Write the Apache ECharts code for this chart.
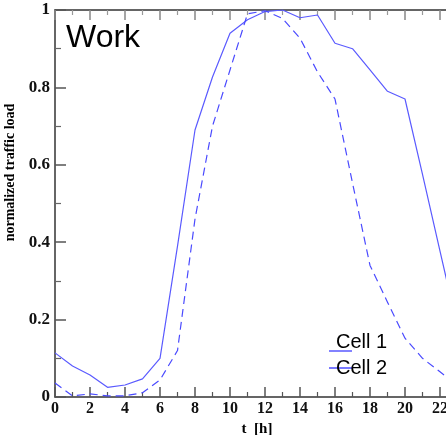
<!DOCTYPE html>
<html>
<head>
<meta charset="utf-8">
<script src="https://cdn.jsdelivr.net/npm/echarts@6/dist/echarts.min.js"></script>
<style>
  html, body { margin: 0; padding: 0; background: #fff; }
  #chart { width: 446px; height: 435px; }
</style>
</head>
<body>
<div id="chart"></div>
<script>
// hourly normalized load, t = 0..24 h
var hours = [0, 1, 2, 3, 4, 5, 6, 7, 8, 9, 10, 11, 12, 13, 14, 15, 16, 17, 18, 19, 20, 21, 22, 23, 24]
var cell1 = [0.114, 0.08, 0.057, 0.025, 0.031, 0.047, 0.10, 0.39, 0.69, 0.827, 0.94, 0.975, 0.996, 1.0, 0.98, 0.987, 0.914, 0.90, 0.845, 0.79, 0.77, 0.575, 0.377, 0.18, 0.11]
var cell2 = [0.036, 0.003, 0.008, 0.003, 0.003, 0.011, 0.044, 0.12, 0.46, 0.70, 0.845, 0.99, 0.998, 0.978, 0.927, 0.84, 0.77, 0.553, 0.34, 0.245, 0.152, 0.10, 0.065, 0.03, 0.04]
var seriesNames = ['Cell 1', 'Cell 2']

function pairs(vals) {
  return hours.map(function (h, i) { return [h, vals[i]] })
}

var serif = 'Liberation Serif'
var sans = 'Liberation Sans'
var lineColor = '#5a5aff'

var chart = echarts.init(document.getElementById('chart'))

var option = {
  animation: false,
  backgroundColor: '#fff',
  title: {
    text: 'Work',
    left: 66,
    top: 22,
    padding: 0,
    textStyle: { fontFamily: sans, fontSize: 32, fontWeight: 'normal', color: '#000' }
  },
  legend: [
    {
      // sample line sits below the text, like the original
      data: [{ name: seriesNames[0], icon: 'path://M0,0L0.01,0L0.01,0.01Z M0,18L23,18L23,19.4L0,19.4Z' }],
      left: 329,
      top: 332,
      itemWidth: 23,
      itemHeight: 20,
      padding: 0,
      textStyle: { fontFamily: sans, fontSize: 20, color: '#000', padding: [0, 0, 0, -21] }
    },
    {
      data: [{ name: seriesNames[1], icon: 'rect' }],
      left: 329,
      top: 358,
      itemWidth: 23,
      itemHeight: 1.4,
      padding: 0,
      textStyle: { fontFamily: sans, fontSize: 20, color: '#000', padding: [0, 0, 0, -21] }
    }
  ],
  grid: {
    left: 55,
    top: 10,
    bottom: 38,
    right: -29,
    outerBoundsMode: 'none'
  },
  xAxis: [
    {
      type: 'value',
      min: 0,
      max: 24,
      interval: 2,
      name: 't  [h]',
      nameLocation: 'middle',
      nameGap: 17,
      nameTextStyle: { fontFamily: serif, fontWeight: 'bold', fontSize: 15, color: '#000', padding: [0, 16, 0, 0] },
      axisLine: { lineStyle: { color: '#333', width: 1.5 } },
      axisTick: { inside: true, length: 10, lineStyle: { color: '#555', width: 1.5 } },
      minorTick: { show: true, splitNumber: 2, length: 5, lineStyle: { color: '#555', width: 1.2 } },
      axisLabel: { fontFamily: serif, fontWeight: 'bold', fontSize: 16, color: '#111', margin: 4 },
      splitLine: { show: false }
    },
    {
      type: 'value',
      position: 'top',
      min: 0,
      max: 24,
      interval: 2,
      axisLine: { lineStyle: { color: '#333', width: 1.5 } },
      axisTick: { inside: true, length: 10, lineStyle: { color: '#888', width: 1.5 } },
      minorTick: { show: true, splitNumber: 2, length: 5, lineStyle: { color: '#999', width: 1.2 } },
      axisLabel: { show: false },
      splitLine: { show: false }
    }
  ],
  yAxis: {
    type: 'value',
    min: 0,
    max: 1,
    interval: 0.2,
    name: 'normalized traffic load',
    nameLocation: 'middle',
    nameRotate: 90,
    nameGap: 35,
    nameTextStyle: { fontFamily: serif, fontWeight: 'bold', fontSize: 14, color: '#000', padding: [0, 0, 0, 62] },
    axisLine: { show: true, lineStyle: { color: '#333', width: 1.5 } },
    axisTick: { show: true, inside: true, length: 11, lineStyle: { color: '#555', width: 1.5 } },
    minorTick: { show: true, splitNumber: 2, length: 6, lineStyle: { color: '#666', width: 1.2 } },
    axisLabel: { fontFamily: serif, fontWeight: 'bold', fontSize: 17, color: '#111', margin: 5 },
    splitLine: { show: false }
  },
  series: [
    {
      name: seriesNames[0],
      type: 'line',
      data: pairs(cell1),
      symbol: 'none',
      color: lineColor,
      lineStyle: { color: lineColor, width: 1.2 }
    },
    {
      name: seriesNames[1],
      type: 'line',
      data: pairs(cell2),
      symbol: 'none',
      color: '#4040ff',
      lineStyle: { color: '#4a4aff', width: 1.2, type: [8, 5] }
    }
  ]
}

chart.setOption(option)
</script>
</body>
</html>
